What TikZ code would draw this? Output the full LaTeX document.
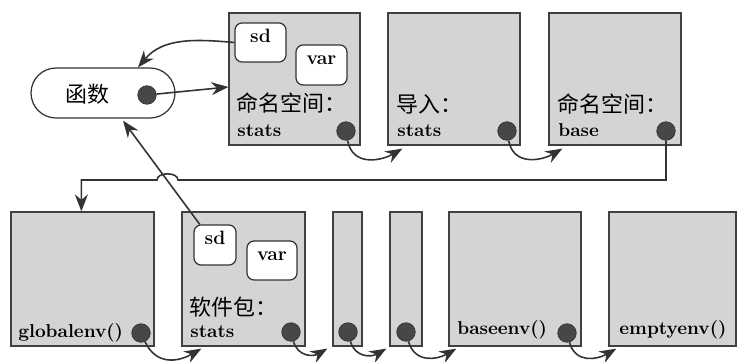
\documentclass[tikz,border=0pt]{standalone}
\usepackage{fontspec}
\newfontfamily\cjk{Noto Sans CJK SC}
\usetikzlibrary{shapes.misc, arrows.meta, positioning, fit, calc}
\tikzset{
  envbox/.style={rectangle, draw=black!75, fill=black!17, line width=0.7pt,
                 inner sep=0pt},
  funcbox/.style={rounded rectangle, draw=black!80, fill=white, line width=0.7pt,
                  minimum width=2.88cm, minimum height=1cm, inner sep=0pt},
  namebox/.style={rectangle, draw=black!80, fill=white, rounded corners=4pt,
                  line width=0.7pt, inner sep=0pt,
                  font=\bfseries\fontsize{11}{13}\selectfont},
  pointer/.style={circle, draw=black!80, fill=black!72, minimum size=0.37cm,
                  inner sep=0pt},
  envlabel/.style={anchor=base west, inner sep=0pt,
                   font=\bfseries\fontsize{10.6}{12}\selectfont},
  cjklabel/.style={anchor=west, inner sep=0pt, font=\cjk\fontsize{12.5}{14}\selectfont},
  link/.style={-{Stealth[length=3.4mm, width=2.6mm]}, line width=0.9pt, draw=black!80},
}

\begin{document}
\begin{tikzpicture}[x=0.02cm, y=-0.02cm]
  \useasboundingbox (0,0) rectangle (738,362);

  % --- Function ---
  \node[funcbox] (func) at (103,93) {};
  \node[cjklabel, anchor=center] (lfunc) at (87,94) {函数};
  \node[pointer] (dfunc) at (147,95) {};

  % --- Top row: namespace, imports, base namespace ---
  \node[envbox, fit={(229,13) (360,145)}] (nsstats) {};
  \node[envbox, fit={(388,13) (520,145)}] (imp) {};
  \node[envbox, fit={(549,13) (681,145)}] (nsbase) {};

  \node[namebox, fit={(235,23) (286,62)}] (sdns) {sd};
  \node[namebox, fit={(296,45) (347,85)}] (varns) {var};

  \node[cjklabel] (lns) at (236,103) {命名空间：};
  \node[envlabel] (lnsstats) at (237,136) {stats};
  \node[cjklabel] (limp) at (396,104) {导入：};
  \node[envlabel] (limpstats) at (397,136) {stats};
  \node[cjklabel] (lbase) at (557,104) {命名空间：};
  \node[envlabel] (lbasename) at (558,136) {base};

  \node[pointer] (dns) at (346,131) {};
  \node[pointer] (dimp) at (507,131) {};
  \node[pointer] (dbase) at (666,131) {};

  % --- Bottom row: environments ---
  \node[envbox, fit={(11,212) (154,346)}] (glob) {};
  \node[envbox, fit={(182,212) (305,346)}] (pkg) {};
  \node[envbox, fit={(333,212) (362,346)}] (mida) {};
  \node[envbox, fit={(390,212) (422,346)}] (midb) {};
  \node[envbox, fit={(449,212) (581,346)}] (benv) {};
  \node[envbox, fit={(609,212) (736,346)}] (eenv) {};

  \node[namebox, fit={(194,225) (236,265)}] (sdpkg) {sd};
  \node[namebox, fit={(247,241) (297,280)}] (varpkg) {var};

  \node[envlabel] (lglob) at (18,337) {globalenv()};
  \node[cjklabel] (lpkg) at (189,307) {软件包：};
  \node[envlabel] (lpkgstats) at (190,337) {stats};
  \node[envlabel] (lbenv) at (457,334) {baseenv()};
  \node[envlabel] (leenv) at (619,334) {emptyenv()};

  \node[pointer] (dglob) at (141,333) {};
  \node[pointer] (dpkg) at (291,332) {};
  \node[pointer] (dmida) at (348,332) {};
  \node[pointer] (dmidb) at (406,332) {};
  \node[pointer] (dbenv) at (567,333) {};

  % --- Bindings ---
  \draw[link] (dfunc) -- ($(nsstats.west)+(0,8)$);
  \draw[link] (sdns.west) to[out=175, in=50] ($(func.north)+(35,0)$);
  \draw[link] (sdpkg) -- ($(func.south)+(20,2)$);

  % --- Enclosing chain ---
  \draw[link] (dns) to[out=-80, in=210, looseness=1.2] ($(imp.south west)+(15,3)$);
  \draw[link] (dimp) to[out=-80, in=210, looseness=1.2] ($(nsbase.south west)+(14,3)$);

  \coordinate (hopR) at (178,180);
  \coordinate (hopL) at (157,180);
  \draw[link] (dbase) |- (hopR) to[out=90, in=90] (hopL)
              -| ($(glob.north west)+(71,0)$);

  \draw[link] (dglob) to[out=-65, in=210, looseness=1.2] ($(pkg.south west)+(20,2)$);
  \draw[link] (dpkg) to[out=-75, in=210, looseness=1.2] ($(mida.south west)+(-5,2)$);
  \draw[link] (dmida) to[out=-75, in=210, looseness=1.2] ($(midb.south west)+(-3,2)$);
  \draw[link] (dmidb) to[out=-75, in=210, looseness=1.2] ($(benv.south west)+(8,2)$);
  \draw[link] (dbenv) to[out=-75, in=210, looseness=1.2] ($(eenv.south west)+(8,2)$);
\end{tikzpicture}
\end{document}
